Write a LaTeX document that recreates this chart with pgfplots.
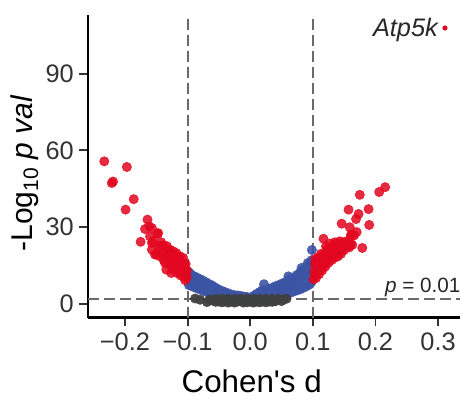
\documentclass[border=0pt]{standalone}
\usepackage{pgfplots}
\pgfplotsset{compat=1.18}
\usepackage{pgfplotstable}
\usepackage{fontspec}
\setmainfont{Liberation Sans}
\definecolor{sigred}{RGB}{226,6,32}
\definecolor{sigblue}{RGB}{60,84,164}
\definecolor{nsgray}{RGB}{64,64,64}
\definecolor{dashgray}{RGB}{105,105,105}

\pgfplotstableread{
x y
-0.233 55.7
-0.197 53.5
-0.219 47.8
-0.221 47.2
-0.186 40.9
-0.199 36.8
-0.164 32.9
-0.168 29.2
-0.157 29.6
-0.148 27.3
-0.160 26.3
-0.175 24.2
-0.157 23.7
-0.161 30.2
-0.147 27.6
-0.155 24.4
-0.157 21.1
-0.144 22.6
-0.136 21.8
-0.128 21.1
-0.123 20.5
-0.118 19.8
-0.112 18.5
-0.107 17.9
-0.152 19.2
-0.144 18.5
-0.136 15.9
-0.128 15.2
-0.123 13.3
-0.118 14.6
-0.112 12.6
-0.107 11.3
-0.102 10.7
-0.134 13.3
-0.126 12.0
-0.102 10.0
-0.150 19.2
-0.140 20.0
-0.132 19.0
-0.125 17.5
-0.120 16.5
-0.115 15.5
-0.110 14.5
-0.105 13.5
-0.103 15.5
-0.108 16.0
-0.113 17.0
-0.130 18.0
-0.138 17.0
-0.145 21.5
-0.133 22.5
-0.121 19.0
-0.116 18.0
-0.104 9.2
-0.106 12.0
-0.111 11.0
-0.142 24.0
-0.139 22.8
-0.131 21.0
-0.127 17.0
-0.119 17.5
-0.114 13.5
-0.109 12.8
-0.104 11.5
-0.101 13.0
-0.106 15.0
-0.117 12.0
-0.122 14.8
0.2155 45.6
0.206 43.7
0.175 42.6
0.157 36.8
0.189 37.0
0.173 35.1
0.169 33.1
0.146 31.3
0.159 29.9
0.190 30.8
0.170 28.0
0.166 26.7
0.161 26.3
0.117 25.4
0.179 21.8
0.135 24.0
0.143 24.4
0.151 23.7
0.159 22.7
0.161 27.0
0.101 9.5
0.102 12.5
0.103 15.5
0.104 17.5
0.106 11.5
0.108 14.5
0.110 16.5
0.112 13.5
0.114 16.5
0.116 19.0
0.118 15.5
0.120 18.5
0.122 21.0
0.124 17.5
0.126 20.5
0.128 19.0
0.130 22.0
0.132 19.5
0.134 22.5
0.136 20.5
0.138 23.5
0.140 21.5
0.142 20.0
0.144 23.0
0.146 21.5
0.148 24.0
0.150 21.0
0.152 23.0
0.155 24.5
0.158 22.0
0.160 23.5
0.163 23.0
0.105 10.0
0.110 11.5
0.115 13.0
0.120 14.5
0.125 16.0
0.130 17.0
0.135 18.0
0.140 18.5
0.145 19.5
0.108 18.0
0.113 19.5
0.121 22.5
0.127 23.5
}\redtable

\pgfplotstableread{
x y
0.005 2.5
0.005 3.0
0.010 2.4
0.010 3.2
0.010 3.8
0.015 2.5
0.015 3.5
0.015 4.5
0.019 5.2
0.022 7.6
0.020 2.6
0.020 4.0
0.020 5.0
0.025 2.7
0.025 3.8
0.025 5.3
0.030 2.8
0.030 4.2
0.030 5.8
0.035 2.9
0.035 4.5
0.035 6.2
0.040 3.0
0.040 5.0
0.040 6.8
0.045 3.2
0.045 5.5
0.045 7.2
0.050 3.4
0.050 5.8
0.050 7.8
0.055 3.7
0.055 6.2
0.055 8.3
0.060 4.0
0.060 6.8
0.060 9.0
0.061 10.7
0.065 4.3
0.065 7.3
0.065 9.6
0.070 4.8
0.070 7.8
0.070 10.3
0.075 5.2
0.075 8.5
0.075 11.3
0.080 5.6
0.080 9.2
0.080 12.3
0.082 14.0
0.085 6.2
0.085 10.0
0.085 13.2
0.090 6.8
0.090 11.0
0.090 14.3
0.092 15.9
0.095 7.5
0.095 12.0
0.095 15.5
0.098 8.5
0.098 13.0
0.098 17.0
0.0985 21.0
-0.005 2.2
-0.005 2.6
-0.010 2.3
-0.010 2.8
-0.015 2.3
-0.015 3.0
-0.020 2.4
-0.020 3.2
-0.025 2.5
-0.025 3.3
-0.030 2.6
-0.030 3.6
-0.035 2.7
-0.035 3.4
-0.035 4.0
-0.040 2.8
-0.040 3.7
-0.040 4.5
-0.045 3.0
-0.045 4.0
-0.045 5.0
-0.050 3.2
-0.050 4.5
-0.050 5.5
-0.055 3.5
-0.055 5.0
-0.055 6.2
-0.060 3.8
-0.060 5.5
-0.060 7.0
-0.065 4.2
-0.065 6.0
-0.065 7.6
-0.070 4.6
-0.070 6.5
-0.070 8.3
-0.075 5.0
-0.075 7.2
-0.075 9.0
-0.080 5.5
-0.080 7.8
-0.080 9.6
-0.085 6.0
-0.085 8.3
-0.085 10.2
-0.090 6.5
-0.090 9.0
-0.090 10.8
-0.095 7.0
-0.095 9.5
-0.095 11.5
-0.098 7.3
-0.098 10.2
-0.098 12.3
}\bluetable

\pgfplotstableread{
x y
-0.088 2.0
-0.069 0.6
-0.080 1.5
-0.065 1.6
-0.060 1.2
-0.055 1.8
-0.055 0.7
-0.050 0.8
-0.050 1.4
-0.045 1.9
-0.045 0.5
-0.040 0.8
-0.040 1.4
-0.035 1.9
-0.035 0.4
-0.030 0.8
-0.030 1.4
-0.025 1.9
-0.025 0.4
-0.020 0.8
-0.020 1.4
-0.015 1.9
-0.011 0.4
-0.010 1.4
-0.005 1.9
-0.005 0.5
0.000 0.8
0.000 1.4
0.005 1.9
0.005 0.4
0.010 0.8
0.010 1.4
0.015 1.9
0.015 0.5
0.020 0.8
0.020 1.4
0.025 1.9
0.025 0.5
0.030 0.8
0.030 1.4
0.035 1.9
0.035 0.7
0.040 0.9
0.040 1.5
0.045 1.9
0.050 1.0
0.053 1.6
0.058 1.9
}\graytable

\begin{document}
\begin{tikzpicture}
\useasboundingbox (-66pt,-63.75pt) rectangle (283.5pt,238.25pt);
\begin{axis}[
  at={(0,0)}, anchor=south west,
  scale only axis, width=279pt, height=227pt,
  xmin=-0.259, xmax=0.335, ymin=-5.5, ymax=113,
  axis x line*=bottom, axis y line*=left,
  axis line style={line width=2pt, -},
  xtick={-0.2,-0.1,0,0.1,0.2,0.3},
  xticklabels={−0.2,−0.1,0.0,0.1,0.2,0.3},
  ytick={0,30,60,90}, yticklabels={0,30,60,90},
  tick align=outside, major tick length=6.5pt,
  tick style={line width=1.4pt, color=black!80},
  ticklabel style={font=\fontsize{19}{21}\selectfont, text=black!80},
  xticklabel style={inner sep=4.5pt},
  yticklabel style={inner sep=4pt},
  xlabel={Cohen\textquotesingle s d},
  xlabel style={at={(axis description cs:0.44,-0.2475)}, anchor=base, font=\fontsize{23.5}{26}\selectfont},
  ylabel={-Log\textsubscript{10} \textit{p val}},
  ylabel style={at={(axis description cs:-0.148,0.477)}, anchor=base, font=\fontsize{22.5}{25}\selectfont},
  clip=false,
]
\addplot[only marks, mark=*, mark size=3.5pt, color=sigblue, opacity=0.9] table {\bluetable};
\addplot[only marks, mark=*, mark size=3.5pt, color=nsgray, opacity=0.95] table {\graytable};
\addplot[only marks, mark=*, mark size=3.5pt, color=sigred, opacity=0.85] table {\redtable};
\addplot[only marks, mark=*, mark size=1.7pt, color=sigred] coordinates {(0.311,107.9)};
\draw[dashgray, line width=1.5pt, dash pattern=on 8pt off 4pt] (axis cs:-0.1,-5.5) -- (axis cs:-0.1,113);
\draw[dashgray, line width=1.5pt, dash pattern=on 8pt off 4pt] (axis cs:0.1,-5.5) -- (axis cs:0.1,113);
\draw[dashgray, line width=1.5pt, dash pattern=on 8pt off 4pt] (axis cs:-0.259,2) -- (axis cs:0.335,2);
\node[anchor=base east, font=\fontsize{19}{21}\selectfont\itshape, text=black!85, inner sep=0pt] at (axis cs:0.300,104.6) {Atp5k};
\node[anchor=base east, font=\fontsize{15.5}{17}\selectfont, text=black!85, inner sep=0pt] at (axis cs:0.336,4.2) {\textit{p} = 0.01};
\end{axis}
\end{tikzpicture}
\end{document}
